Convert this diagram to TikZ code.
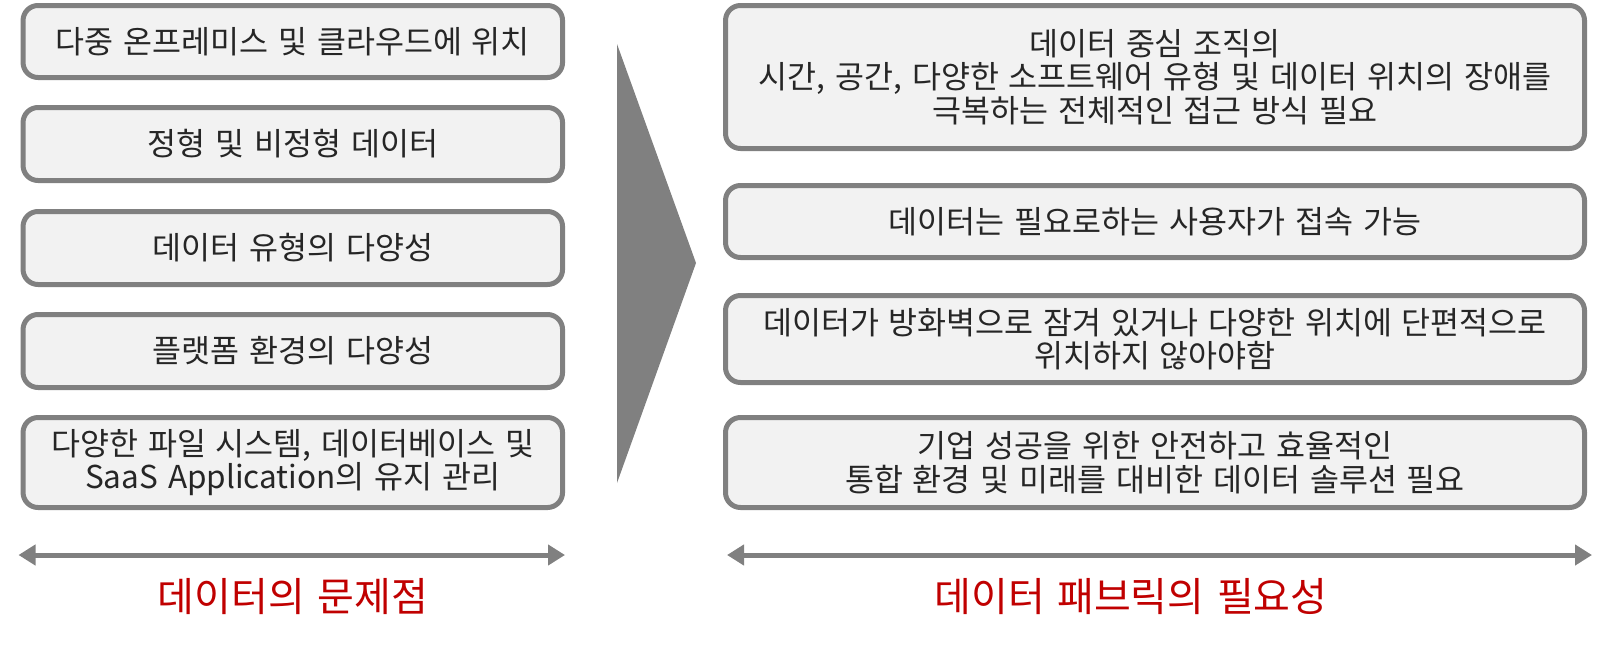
\documentclass[tikz,border=0pt]{standalone}
\usepackage{fontspec}
\setmainfont{Noto Sans CJK KR}[WordSpace=1.4]
\usetikzlibrary{arrows.meta}
\definecolor{boxfill}{HTML}{F2F2F2}
\definecolor{boxline}{HTML}{808080}
\definecolor{txt}{HTML}{262626}
\definecolor{redtxt}{HTML}{C00000}
\tikzset{
  x=1pt, y=-1pt,
  infobox/.style={draw=boxline, line width=5pt, fill=boxfill, rounded corners=15pt,
    align=center, text=txt, font=\fontsize{31.5}{33.5}\selectfont, inner sep=0pt},
  leftbox/.style={infobox, minimum width=539.5pt},
  rightbox/.style={infobox, minimum width=859pt},
  span/.style={draw=boxline, line width=5pt, {Triangle[length=17pt,width=20pt]}-{Triangle[length=17pt,width=20pt]}},
  redlabel/.style={text=redtxt, font=\fontsize{40}{44}\selectfont, inner sep=0pt}
}
\begin{document}
\begin{tikzpicture}
\useasboundingbox (0,0) rectangle (1613,645);
% left boxes
\node[leftbox, minimum height=72pt] (l1) at (292.8,41.5) {다중 온프레미스 및 클라우드에 위치};
\node[leftbox, minimum height=73pt] (l2) at (292.8,144) {정형 및 비정형 데이터};
\node[leftbox, minimum height=73pt] (l3) at (292.8,248) {데이터 유형의 다양성};
\node[leftbox, minimum height=73pt] (l4) at (292.8,351) {플랫폼 환경의 다양성};
\node[leftbox, minimum height=90pt] (l5) at (292.8,462.5) {다양한 파일 시스템, 데이터베이스 및\\SaaS Application의 유지 관리};
% big arrow
\fill[boxline] (617,44) -- (696,263) -- (617,483) -- cycle;
% right boxes
\node[rightbox, minimum height=143pt] (r1) at (1155,77) {데이터 중심 조직의\\시간, 공간, 다양한 소프트웨어 유형 및 데이터 위치의 장애를\\극복하는 전체적인 접근 방식 필요};
\node[rightbox, minimum height=72pt] (r2) at (1155,221.5) {데이터는 필요로하는 사용자가 접속 가능};
\node[rightbox, minimum height=87pt] (r3) at (1155,339) {데이터가 방화벽으로 잠겨 있거나 다양한 위치에 단편적으로\\위치하지 않아야함};
\node[rightbox, minimum height=90pt] (r4) at (1155,462.5) {기업 성공을 위한 안전하고 효율적인\\통합 환경 및 미래를 대비한 데이터 솔루션 필요};
% spans
\coordinate (la) at (18.5,555);
\coordinate (lb) at (565,555);
\coordinate (ra) at (727,555);
\coordinate (rb) at (1592,555);
\draw[span] (la) -- (lb);
\draw[span] (ra) -- (rb);
% labels
\node[redlabel] (lt) at (293,597) {데이터의 문제점};
\node[redlabel] (rt) at (1131,597) {데이터 패브릭의 필요성};
\end{tikzpicture}
\end{document}
